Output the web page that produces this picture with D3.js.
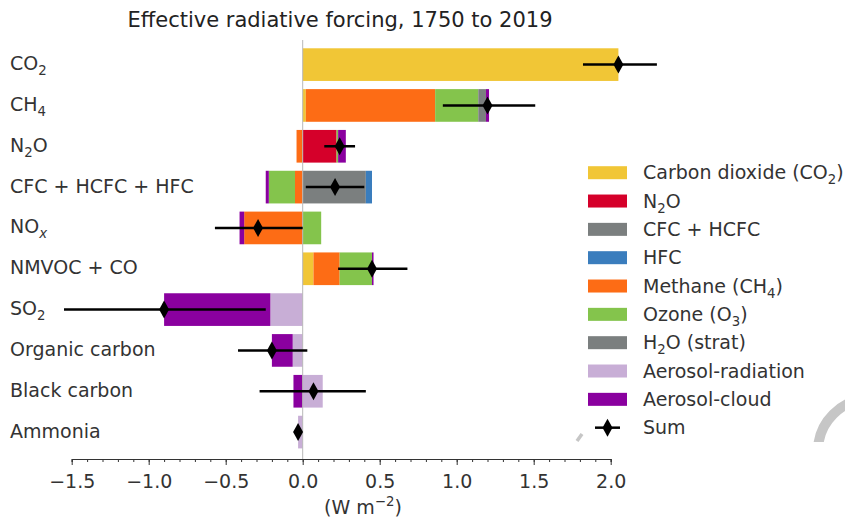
<!DOCTYPE html>
<html>
<head>
<meta charset="utf-8">
<script src="https://cdn.jsdelivr.net/npm/d3@7"></script>
<style>
  body { margin: 0; background: #fff; }
  svg { font-family: "DejaVu Sans", sans-serif; }
</style>
</head>
<body>
<div class="chart"></div>
<script>
// rows of the chart, top to bottom
var categories = ["CO_{2}", "CH_{4}", "N_{2}O", "CFC + HCFC + HFC", "NO_{x}",
                  "NMVOC + CO", "SO_{2}", "Organic carbon", "Black carbon", "Ammonia"];

// contributions per component (W m-2), one value per row
var co2      = [2.05, 0.02, 0,     0,     0,     0.07, 0,     0,     0,     0];
var n2o      = [0,    0,    0.22,  0,     0,     0,    0,     0,     0,     0];
var cfc      = [0,    0,    0,     0.41,  0,     0,    0,     0,     0,     0];
var hfc      = [0,    0,    0,     0.04,  0,     0,    0,     0,     0,     0];
var methane  = [0,    0.84, -0.04, -0.05, -0.38, 0.17, 0,     0,     0,     0];
var ozone    = [0,    0.28, 0.01,  -0.17, 0.12,  0.21, 0,     0,     0,     0];
var h2oStrat = [0,    0.05, 0,     0,     0,     0,    0,     0,     0,     0];
var aerRad   = [0,    0,    0,     0,     0,     0,    -0.21, -0.065, 0.13, -0.03];
var aerCloud = [0,    0.02, 0.05,  -0.02, -0.03, 0.01, -0.69, -0.135, -0.06, 0];

// totals and uncertainty ranges
var sums    = [2.05, 1.20, 0.24, 0.21, -0.29, 0.45, -0.90, -0.20, 0.07, -0.03];
var errLow  = [1.82, 0.91, 0.14, 0.02, -0.57, 0.23, -1.55, -0.42, -0.28, -0.04];
var errHigh = [2.30, 1.51, 0.34, 0.40, 0.00, 0.68, -0.24, 0.03, 0.41, -0.02];

var seriesNames = ["Carbon dioxide (CO_{2})", "N_{2}O", "CFC + HCFC", "HFC", "Methane (CH_{4})",
                   "Ozone (O_{3})", "H_{2}O (strat)", "Aerosol-radiation", "Aerosol-cloud"];
var seriesValues = [co2, n2o, cfc, hfc, methane, ozone, h2oStrat, aerRad, aerCloud];
var seriesColors = ["#f1c636", "#d5002a", "#7b7f7f", "#3a7dbd", "#fd6c15",
                    "#84c44c", "#7b7f7f", "#c8aed6", "#8a009f"];

var xTicks = [-1.5, -1.0, -0.5, 0.0, 0.5, 1.0, 1.5, 2.0];

var width = 845, height = 519;

var svg = d3.select(".chart").append("svg")
  .attr("width", width)
  .attr("height", height);

// text with _{sub} and ^{sup} markup
function richText(sel, str) {
  var parts = str.split(/([_^]\{[^}]*\})/).filter(function(p) { return p.length; });
  var shift = 0;
  parts.forEach(function(p) {
    var m = p.match(/^([_^])\{([^}]*)\}$/);
    if (m) {
      var d = m[1] === "_" ? 5 : -8;
      var ts = sel.append("tspan").attr("dy", d - shift).attr("font-size", "70%").text(m[2]);
      if (m[2] === "x") ts.attr("font-style", "italic");
      shift = d;
    } else {
      sel.append("tspan").attr("dy", -shift).text(p);
      shift = 0;
    }
  });
}

var x = d3.scaleLinear().domain([-1.5, 2.0]).range([71.7, 610.7]);
var y = d3.scaleBand().domain(categories).range([44.2, 452.5])
  .paddingInner(0.2).paddingOuter(0.1);

// title
svg.append("text")
  .attr("x", 340).attr("y", 27)
  .attr("text-anchor", "middle")
  .attr("font-size", 21).attr("fill", "#222")
  .text("Effective radiative forcing, 1750 to 2019");

// stacked bars
var table = categories.map(function(c, i) {
  var row = { cat: c };
  seriesNames.forEach(function(s, j) { row[s] = seriesValues[j][i]; });
  return row;
});
var stack = d3.stack().keys(seriesNames).offset(d3.stackOffsetDiverging);
var layers = stack(table);

var layerGroups = svg.append("g").selectAll("g")
  .data(layers)
  .enter()
  .append("g")
  .style("fill", function(d, i) { return seriesColors[i]; });

layerGroups.selectAll("rect")
  .data(function(d) { return d; })
  .enter()
  .append("rect")
  .attr("x", function(d) { return x(Math.min(d[0], d[1])); })
  .attr("y", function(d) { return y(d.data.cat); })
  .attr("width", function(d) { return Math.abs(x(d[1]) - x(d[0])); })
  .attr("height", y.bandwidth());

// zero line
svg.append("line")
  .attr("x1", x(0)).attr("x2", x(0))
  .attr("y1", 40).attr("y2", 459)
  .attr("stroke", "#b8b8b8").attr("stroke-width", 1);

// error bars and sums
var errG = svg.append("g");
errG.selectAll("line")
  .data(categories)
  .enter()
  .append("line")
  .attr("x1", function(d, i) { return x(errLow[i]); })
  .attr("x2", function(d, i) { return x(errHigh[i]); })
  .attr("y1", function(d) { return y(d) + y.bandwidth() / 2; })
  .attr("y2", function(d) { return y(d) + y.bandwidth() / 2; })
  .attr("stroke", "#000").attr("stroke-width", 2.5);

var diamond = "M0,-9L5,0L0,9L-5,0Z";
errG.selectAll("path")
  .data(categories)
  .enter()
  .append("path")
  .attr("d", diamond)
  .attr("transform", function(d, i) {
    return "translate(" + x(sums[i]) + "," + (y(d) + y.bandwidth() / 2) + ")";
  })
  .attr("fill", "#000");

// y labels
svg.append("g").selectAll("text")
  .data(categories)
  .enter()
  .append("text")
  .attr("x", 10)
  .attr("y", function(d) { return y(d) + y.bandwidth() / 2 + 5.5; })
  .attr("font-size", 19).attr("fill", "#333")
  .each(function(d) { richText(d3.select(this), d); });

// x axis
var axisG = svg.append("g").attr("transform", "translate(0,459)");
axisG.call(d3.axisBottom(x).tickValues(d3.range(-15, 21).map(function(v) { return v / 10; }))
  .tickSize(3).tickFormat(""));
axisG.append("g").call(d3.axisBottom(x).tickValues(xTicks).tickSize(6).tickPadding(6)
  .tickFormat(function(d) { return d3.format(".1f")(d).replace("-", "\u2212"); }));
axisG.selectAll(".domain").attr("stroke", "#333");
axisG.selectAll(".tick line").attr("stroke", "#333");
axisG.selectAll("path.domain").filter(function(d, i) { return i > 0; }).remove();
axisG.selectAll("text")
  .attr("font-family", "DejaVu Sans, sans-serif")
  .attr("font-size", 19).attr("fill", "#333")
  .attr("dy", null).attr("y", 29);

svg.append("text")
  .attr("x", 363).attr("y", 514)
  .attr("text-anchor", "middle")
  .attr("font-size", 19).attr("fill", "#333")
  .each(function() { richText(d3.select(this), "(W m^{\u22122})"); });

// legend
var legendItems = seriesNames.concat(["Sum"]);
var leg = svg.append("g").selectAll("g")
  .data(legendItems)
  .enter()
  .append("g")
  .attr("transform", function(d, i) { return "translate(588," + (172.7 + i * 28.33) + ")"; });

leg.filter(function(d) { return d !== "Sum"; })
  .append("rect")
  .attr("x", 0).attr("y", -6.5)
  .attr("width", 39).attr("height", 13)
  .style("fill", function(d, i) { return seriesColors[i]; });

var sumKey = leg.filter(function(d) { return d === "Sum"; });
sumKey.append("line")
  .attr("x1", 7).attr("x2", 32).attr("y1", 0).attr("y2", 0)
  .attr("stroke", "#000").attr("stroke-width", 2.5);
sumKey.append("path")
  .attr("d", diamond)
  .attr("transform", "translate(19.5,0)")
  .attr("fill", "#000");

leg.append("text")
  .attr("x", 55).attr("y", 6.5)
  .attr("font-size", 19).attr("fill", "#333")
  .each(function(d) { richText(d3.select(this), d); });

// faint grey ring pieces (background decoration)
svg.append("clipPath").attr("id", "ringClip")
  .append("rect").attr("x", 780).attr("y", 380).attr("width", 70).attr("height", 62);
svg.append("circle")
  .attr("cx", 870).attr("cy", 451).attr("r", 52)
  .attr("fill", "none").attr("stroke", "#c6c6c6").attr("stroke-width", 10)
  .attr("clip-path", "url(#ringClip)");
svg.append("line")
  .attr("x1", 577).attr("y1", 441).attr("x2", 582).attr("y2", 434)
  .attr("stroke", "#c6c6c6").attr("stroke-width", 3.5);
</script>
</body>
</html>
